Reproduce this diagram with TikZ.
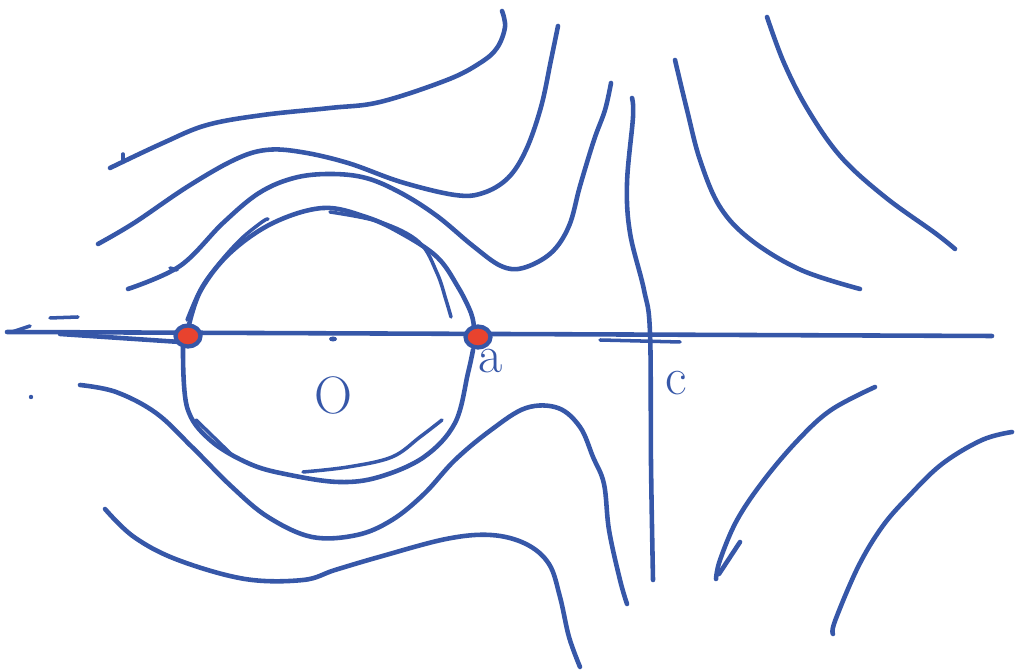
\documentclass[tikz,border=0pt]{standalone}
\usepackage{tikz}
\usetikzlibrary{shapes.geometric}
\definecolor{ink}{HTML}{3657A8}
\definecolor{dotred}{HTML}{E8432E}
\tikzset{
  pen/.style={draw=ink, line width=1.3pt, line cap=round, line join=round},
  thinpen/.style={draw=ink, line width=1.0pt, line cap=round, line join=round},
  redpt/.style={ellipse, fill=dotred, draw=ink, line width=1.2pt, minimum width=0.25cm, minimum height=0.21cm, inner sep=0pt},
  lbl/.style={text=ink, font=\fontsize{15}{15}\selectfont, inner sep=0pt}
}
\begin{document}
\begin{tikzpicture}[x=0.01cm,y=-0.01cm]
\useasboundingbox (0,0) rectangle (1016,671);
% axis
\coordinate (axL) at (7,332);
\coordinate (axR) at (992,336);
\draw[pen] (axL) -- (axR);
\draw[pen] (60,334) -- (180,342);
\draw[thinpen] (600,340) -- (680,342);
\draw[thinpen] (30,326) -- (12,332);
\draw[thinpen] (50,318) -- (78,317);
\fill[ink] (31,397) circle (2.2);
% vertical line C
\draw[pen] plot[smooth, tension=0.6] coordinates {(632,98) (633,117) (627,183) (630,233) (644,290) (650,333) (651,464) (653,580)};
% circle upper strokes
\draw[pen] plot[smooth, tension=0.6] coordinates {(189,325) (201,290) (230,253) (273,223) (323,208) (366,217) (401,233) (437,257) (458,287) (471,313) (474,328)};
\draw[thinpen] plot[smooth, tension=0.6] coordinates {(187,320) (200,290) (216,267) (240,240) (262,222) (268,219)};
\draw[thinpen] plot[smooth, tension=0.6] coordinates {(330,212) (380,222) (419,242) (437,273) (446,300) (451,317)};
% circle lower strokes
\draw[pen] plot[smooth, tension=0.6] coordinates {(183,347) (187,407) (210,440) (250,464) (290,475) (339,482) (379,477) (424,457) (455,423) (468,373) (473,350)};
\draw[thinpen] plot[smooth, tension=0.6] coordinates {(442,420) (420,437) (392,457) (348,467) (303,472)};
\draw[thinpen] (196,420) -- (232,455);
% upper streamlines
\draw[pen] plot[smooth, tension=0.6] coordinates {(110,168) (163,143) (207,125) (263,115) (330,108) (380,102) (447,80) (480,63) (497,48) (505,27) (502,11)};
\draw[thinpen] (123,154) -- (123,162);
\draw[pen] plot[smooth, tension=0.6] coordinates {(98,244) (134,223) (187,187) (234,160) (266,150) (301,152) (348,163) (401,182) (455,195) (483,193) (508,178) (526,150) (541,107) (551,60) (558,26)};
\draw[pen] plot[smooth, tension=0.6] coordinates {(128,289) (180,266) (223,223) (259,193) (294,178) (330,174) (366,178) (401,193) (437,216) (473,246) (501,266) (523,268) (551,253) (569,226) (580,186) (594,140) (605,110) (611,83)};
\draw[thinpen] (170,268) -- (177,270);
% right upper hyperbolas
\draw[pen] plot[smooth, tension=0.6] coordinates {(675,60) (687,110) (700,160) (720,207) (751,240) (801,270) (860,289)};
\draw[pen] plot[smooth, tension=0.6] coordinates {(767,17) (784,63) (808,110) (841,157) (885,197) (935,233) (955,249)};
% lower streamlines
\draw[pen] plot[smooth, tension=0.6] coordinates {(80,385) (116,392) (156,413) (192,447) (232,487) (268,517) (312,537) (357,535) (392,520) (424,494) (455,460) (491,430) (526,408) (558,408) (580,427) (593,457) (604,484) (609,530) (620,580) (627,604)};
\draw[pen] plot[smooth, tension=0.6] coordinates {(105,509) (134,537) (178,560) (245,579) (303,580) (335,570) (379,557) (446,539) (491,535) (526,544) (549,564) (560,597) (569,637) (580,667)};
% right lower hyperbolas
\draw[pen] plot[smooth, tension=0.6] coordinates {(875,387) (831,410) (798,440) (764,480) (737,520) (720,560) (716,579)};
\draw[pen] (740,542) -- (719,574);
\draw[pen] plot[smooth, tension=0.6] coordinates {(1012,432) (982,440) (942,464) (908,497) (882,527) (858,567) (835,621) (833,634)};
% center mark
\fill[ink] (333,339) ellipse (4 and 2.5);
% red points
\node[redpt] (P1) at (188,336) {};
\node[redpt] (P2) at (478,337) {};
% labels
\node[lbl] (O) at (333,395) {O};
\node[lbl] (a) at (491,361) {a};
\node[lbl] (C) at (676,383) {c};
\end{tikzpicture}
\end{document}
